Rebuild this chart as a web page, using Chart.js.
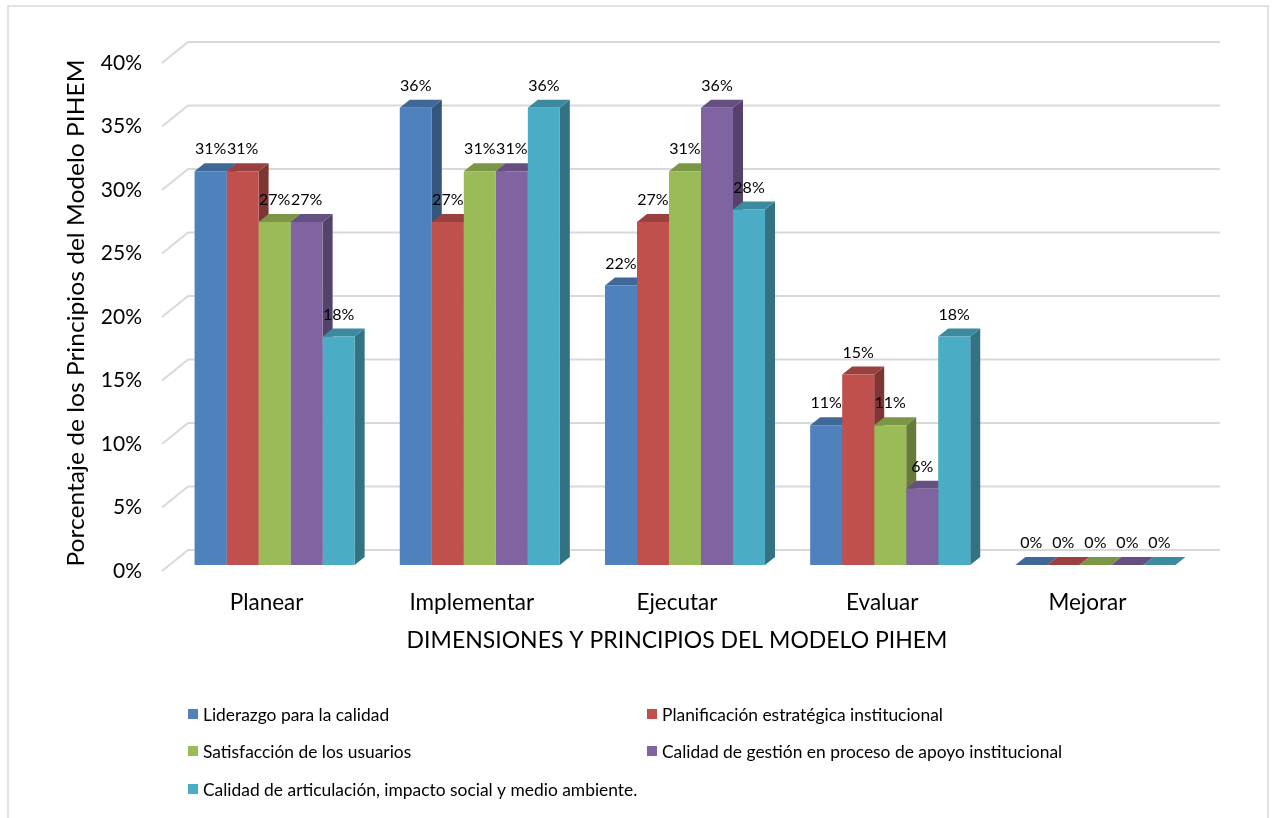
<!DOCTYPE html>
<html>
<head>
<meta charset="utf-8">
<title>Dimensiones y principios del modelo PIHEM</title>
<script src="https://cdn.jsdelivr.net/npm/chart.js@4.4.1/dist/chart.umd.min.js"></script>
<style>
  html, body { margin: 0; padding: 0; background: #fff; }
  canvas { display: block; }
</style>
</head>
<body>
<canvas id="pihemChart" width="1275" height="818"></canvas>
<script>
// datos
const categories = ['Planear', 'Implementar', 'Ejecutar', 'Evaluar', 'Mejorar'];
const seriesNames = [
  'Liderazgo para la calidad',
  'Planificación estratégica institucional',
  'Satisfacción de los usuarios',
  'Calidad de gestión en proceso de apoyo institucional',
  'Calidad de articulación, impacto social y medio ambiente.'
];
const liderazgo = [31, 36, 22, 11, 0];
const planificacion = [31, 27, 27, 15, 0];
const satisfaccion = [27, 31, 31, 11, 0];
const gestion = [27, 31, 36, 6, 0];
const articulacion = [18, 36, 28, 18, 0];
const yTicks = [0, 5, 10, 15, 20, 25, 30, 35, 40];
const seriesColors = ['#4F81BD', '#C0504D', '#9BBB59', '#8064A2', '#4BACC6'];

const FONT = 'Lato, "Open Sans", sans-serif';
const DEPTH = { x: 10, y: 8 };      // profundidad de las barras
const WALL = { x: 26, y: 21 };      // profundidad de la pared de fondo
const GRID_COLOR = '#D9D9D9';

function shade(hex, f) {
  const n = parseInt(hex.slice(1), 16);
  const r = Math.round(((n >> 16) & 255) * f);
  const g = Math.round(((n >> 8) & 255) * f);
  const b = Math.round((n & 255) * f);
  return `rgb(${r},${g},${b})`;
}

function poly(ctx, pts, color) {
  ctx.beginPath();
  ctx.moveTo(pts[0][0], pts[0][1]);
  for (let i = 1; i < pts.length; i++) ctx.lineTo(pts[i][0], pts[i][1]);
  ctx.closePath();
  ctx.fillStyle = color;
  ctx.fill();
}

// pared de fondo + caras laterales y superiores de las barras
const pseudo3d = {
  id: 'pseudo3d',
  beforeDatasetsDraw(chart) {
    const ctx = chart.ctx;
    const area = chart.chartArea;
    const y = chart.scales.y;
    ctx.save();
    ctx.strokeStyle = GRID_COLOR;
    ctx.lineWidth = 2;
    yTicks.forEach(v => {
      const py = y.getPixelForValue(v);
      ctx.beginPath();
      ctx.moveTo(area.left - 10, py + 6);
      ctx.lineTo(area.left - 10 + WALL.x, py + 6 - WALL.y);
      ctx.lineTo(area.right + 22, py + 6 - WALL.y);
      ctx.stroke();
    });
    chart.data.datasets.forEach((ds, di) => {
      const meta = chart.getDatasetMeta(di);
      meta.data.forEach(bar => {
        const p = bar.getProps(['x', 'y', 'base', 'width'], true);
        const l = p.x - p.width / 2, r = p.x + p.width / 2;
        const t = p.y, b = p.base;
        if (b - t > 0) {
          poly(ctx, [[r, t], [r + DEPTH.x, t - DEPTH.y], [r + DEPTH.x, b - DEPTH.y], [r, b]], shade(ds.backgroundColor, 0.66));
        }
        poly(ctx, [[l, t], [r, t], [r + DEPTH.x, t - DEPTH.y], [l + DEPTH.x, t - DEPTH.y]], shade(ds.backgroundColor, 0.8));
      });
    });
    ctx.restore();
  },
  afterDatasetsDraw(chart) {
    const ctx = chart.ctx;
    ctx.save();
    ctx.fillStyle = '#000';
    ctx.font = '16px ' + FONT;
    ctx.textAlign = 'center';
    ctx.textBaseline = 'middle';
    chart.data.datasets.forEach((ds, di) => {
      chart.getDatasetMeta(di).data.forEach((bar, i) => {
        const p = bar.getProps(['x', 'y'], true);
        ctx.fillText(ds.data[i] + '%', p.x, p.y - 22);
      });
    });
    ctx.restore();
  },
  afterDraw(chart) {
    const ctx = chart.ctx;
    const x = chart.scales.x, y = chart.scales.y;
    ctx.save();

    // marco
    ctx.strokeStyle = GRID_COLOR;
    ctx.lineWidth = 1.5;
    ctx.beginPath();
    ctx.moveTo(8, 818);
    ctx.lineTo(8, 6);
    ctx.lineTo(1268, 6);
    ctx.lineTo(1268, 818);
    ctx.stroke();

    ctx.fillStyle = '#000';
    // etiquetas del eje Y
    ctx.font = '21px ' + FONT;
    ctx.textAlign = 'right';
    ctx.textBaseline = 'middle';
    yTicks.forEach(v => {
      ctx.fillText(v + '%', 142, y.getPixelForValue(v) + 6);
    });

    // etiquetas del eje X
    ctx.font = '22.5px ' + FONT;
    ctx.textAlign = 'center';
    categories.forEach((c, i) => {
      ctx.fillText(c, x.getPixelForValue(i) - 8, 603);
    });

    // titulo eje X
    ctx.font = '23px ' + FONT;
    ctx.fillText('DIMENSIONES Y PRINCIPIOS DEL MODELO PIHEM', 677, 641);

    // titulo eje Y (letra estrecha)
    const yTitle = 'Porcentaje de los Principios del Modelo PIHEM';
    ctx.font = '23px ' + FONT;
    const w = ctx.measureText(yTitle).width;
    ctx.translate(77, 313);
    ctx.rotate(-Math.PI / 2);
    ctx.scale(507 / w, 1);
    ctx.fillText(yTitle, 0, 0);
    ctx.setTransform(1, 0, 0, 1, 0, 0);

    // leyenda en dos columnas
    const colX = [188, 647];
    const rowY = [714, 751, 789];
    ctx.font = '17.4px ' + FONT;
    ctx.textAlign = 'left';
    chart.data.datasets.forEach((ds, i) => {
      const lx = colX[i % 2], ly = rowY[Math.floor(i / 2)];
      ctx.fillStyle = ds.backgroundColor;
      ctx.fillRect(lx, ly - 5, 10, 10);
      ctx.fillStyle = '#000';
      ctx.fillText(ds.label, lx + 15, ly + 1);
    });
    ctx.restore();
  }
};

const seriesData = [liderazgo, planificacion, satisfaccion, gestion, articulacion];

new Chart(document.getElementById('pihemChart'), {
  type: 'bar',
  data: {
    labels: categories,
    datasets: seriesNames.map((name, i) => ({
      label: name,
      data: seriesData[i],
      backgroundColor: seriesColors[i],
      borderWidth: 0,
      categoryPercentage: 0.78,
      barPercentage: 1
    }))
  },
  options: {
    responsive: false,
    animation: false,
    layout: { padding: { left: 172, right: 77, top: 57, bottom: 253 } },
    scales: {
      x: { display: false },
      y: { display: false, min: 0, max: 40 }
    },
    plugins: {
      legend: { display: false },
      tooltip: { enabled: false }
    }
  },
  plugins: [pseudo3d]
});
</script>
</body>
</html>
